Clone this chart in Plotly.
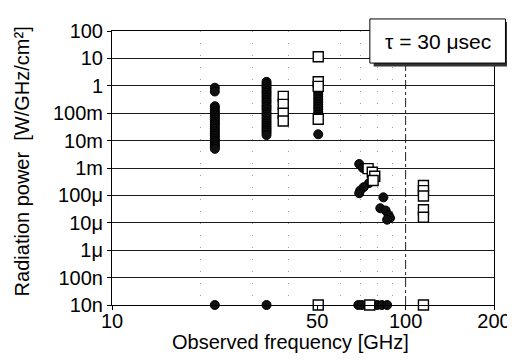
import plotly.graph_objects as go

# ---------------- data ----------------
# dense columns of filled circles (measured points)
col22_freq = 22.4
col22_power = [0.85, 0.62, 0.18, 0.15, 0.12, 0.10, 0.085, 0.07, 0.058, 0.048, 0.04,
               0.033, 0.027, 0.022, 0.018, 0.015, 0.012, 0.010, 0.0085, 0.007, 0.006, 0.005]
col34_freq = 33.6
col34_power = [1.4, 1.15, 0.95, 0.8, 0.65, 0.55, 0.45, 0.37, 0.3, 0.25, 0.2, 0.17, 0.14,
               0.11, 0.09, 0.075, 0.062, 0.05, 0.042, 0.035, 0.029, 0.024, 0.02, 0.016]
col50_freq = 50.4
col50_power = [0.6, 0.5, 0.4, 0.32, 0.26, 0.21, 0.17, 0.14, 0.11, 0.09, 0.075, 0.017]

# scattered filled circles, 70-90 GHz
cluster_circle_freq = [69.5, 71.5, 75.0, 72.0, 70.0, 69.5, 84.0, 82.0, 85.5, 87.5, 88.5, 86.5]
cluster_circle_power = [1.4e-3, 1.0e-3, 0.28e-3, 0.2e-3, 0.15e-3, 0.12e-3,
                        85e-6, 34e-6, 28e-6, 19e-6, 15e-6, 13e-6]

# open squares
sq38_freq = 38.3
sq38_power = [0.41, 0.21, 0.10, 0.052]
sq50_freq = 50.4
sq50_power = [11.5, 1.4, 0.95, 0.06]
cluster_square_freq = [74.5, 77.0, 78.5, 77.5]
cluster_square_power = [0.95e-3, 0.7e-3, 0.5e-3, 0.35e-3]
sq115_freq = 115.0
sq115_power = [230e-6, 150e-6, 95e-6, 30e-6, 16e-6]

# points at the detection floor (10n)
floor_level = 1e-8
floor_circle_freq = [22.4, 33.6, 69.0, 71.0, 80.0, 83.0, 86.5]
floor_square_freq = [50.4, 75.5, 115.0]

# axis ticks
y_tickvals = [1e-8, 1e-7, 1e-6, 1e-5, 1e-4, 1e-3, 1e-2, 1e-1, 1, 10, 100]
y_ticktext = ["10n", "100n", "1μ", "10μ", "100μ", "1m", "10m", "100m", "1", "10", "100"]
x_tickvals = [10, 50, 100, 200]
x_ticktext = ["10", "50", "100", "200"]
x_minor_grid = [20, 30, 40, 60, 70, 80, 90]

# ---------------- build series ----------------
circ_x = ([col22_freq] * len(col22_power) + [col34_freq] * len(col34_power)
          + [col50_freq] * len(col50_power) + cluster_circle_freq + floor_circle_freq)
circ_y = (col22_power + col34_power + col50_power + cluster_circle_power
          + [floor_level] * len(floor_circle_freq))

sq_x = ([sq38_freq] * len(sq38_power) + [sq50_freq] * len(sq50_power)
        + cluster_square_freq + [sq115_freq] * len(sq115_power) + floor_square_freq)
sq_y = (sq38_power + sq50_power + cluster_square_power + sq115_power
        + [floor_level] * len(floor_square_freq))

FONT = "Liberation Sans, Arial, sans-serif"

fig = go.Figure()
fig.add_trace(go.Scatter(
    x=circ_x, y=circ_y, mode="markers", cliponaxis=False, showlegend=False,
    marker=dict(symbol="circle", size=9, color="#111111",
                line=dict(color="black", width=1)),
))
fig.add_trace(go.Scatter(
    x=sq_x, y=sq_y, mode="markers", cliponaxis=False, showlegend=False,
    marker=dict(symbol="square", size=10, color="white",
                line=dict(color="black", width=1.4)),
))

fig.update_layout(
    width=515, height=362,
    margin=dict(l=104, r=20, t=18, b=65),
    paper_bgcolor="white", plot_bgcolor="white",
    font=dict(family=FONT, size=20, color="black"),
    xaxis=dict(
        type="log", range=[1, 2.30103],
        tickmode="array", tickvals=x_tickvals, ticktext=x_ticktext,
        ticks="outside", ticklen=4, tickcolor="black",
        ticklabelstandoff=-6,
        showgrid=False, zeroline=False,
        showline=True, linecolor="black", linewidth=1, mirror=True,
        tickfont=dict(size=20),
        minor=dict(tickmode="array", tickvals=x_minor_grid, showgrid=True,
                   gridcolor="#a0a0a0", griddash="1px,11px", gridwidth=1, ticks=""),
    ),
    yaxis=dict(
        type="log", range=[-8, 2],
        tickmode="array", tickvals=y_tickvals, ticktext=y_ticktext,
        ticks="outside", ticklen=4, tickcolor="black",
        showgrid=True, gridcolor="#1a1a1a", gridwidth=1,
        zeroline=False,
        showline=True, linecolor="black", linewidth=1, mirror=True,
        tickfont=dict(size=20),
    ),
    shapes=[
        # 100 GHz vertical grid line
        dict(type="line", xref="x", yref="paper", x0=100, x1=100, y0=0, y1=1,
             line=dict(color="#222222", width=1, dash="dashdot"), layer="below"),
        # legend box shadow
        dict(type="rect", xref="paper", yref="paper",
             x0=0.685, x1=1.040, y0=0.870, y1=1.033,
             fillcolor="#333333", line=dict(width=0)),
        # legend box
        dict(type="rect", xref="paper", yref="paper",
             x0=0.675, x1=1.030, y0=0.883, y1=1.044,
             fillcolor="white", line=dict(color="black", width=1)),
    ],
    annotations=[
        dict(text="τ = 30 μsec", xref="paper", yref="paper",
             x=0.853, y=0.963, xanchor="center", yanchor="middle",
             showarrow=False, font=dict(size=21)),
        dict(text="Observed frequency [GHz]", xref="paper", yref="paper",
             x=0.467, y=-0.135, xanchor="center", yanchor="middle",
             showarrow=False, font=dict(size=20)),
        dict(text="Radiation power  [W/GHz/cm²]", xref="paper", yref="paper",
             x=-0.235, y=0.525, xanchor="center", yanchor="middle", textangle=-90,
             showarrow=False, font=dict(size=20)),
    ],
)

fig.write_html("out.html")
